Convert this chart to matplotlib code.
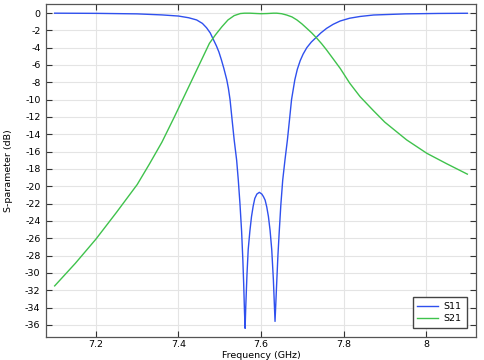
import matplotlib
matplotlib.use("Agg")
import matplotlib.pyplot as plt

f_s11 = [7.10, 7.20, 7.30, 7.36, 7.40, 7.425, 7.444, 7.458, 7.468, 7.477, 7.484, 7.492,
         7.498, 7.504, 7.510, 7.517, 7.521, 7.525, 7.530, 7.535, 7.541, 7.545, 7.549,
         7.553, 7.556, 7.558, 7.560, 7.5615, 7.563, 7.566, 7.569, 7.573, 7.577, 7.581,
         7.585, 7.590, 7.596, 7.602, 7.606, 7.610, 7.614, 7.618, 7.622, 7.626, 7.630,
         7.632, 7.634, 7.636, 7.638, 7.641, 7.644, 7.648, 7.6526, 7.658, 7.664, 7.669,
         7.674, 7.682, 7.688, 7.695, 7.702, 7.711, 7.722, 7.733, 7.745, 7.759, 7.775,
         7.792, 7.815, 7.84, 7.873, 7.95, 8.03, 8.10]
s11 = [-0.02, -0.04, -0.10, -0.22, -0.35, -0.55, -0.8, -1.2, -1.7, -2.3, -3.0, -3.8,
       -4.5, -5.4, -6.4, -7.7, -8.7, -10.0, -12.35, -14.65, -17.0, -19.3, -22.0,
       -25.2, -28.5, -31.2, -34.5, -36.4, -34.0, -30.2, -27.3, -25.2, -23.5, -22.3,
       -21.4, -20.9, -20.7, -20.9, -21.2, -21.6, -22.4, -23.5, -25.1, -27.3, -30.8,
       -33.2, -35.6, -33.4, -31.2, -28.0, -25.4, -22.2, -19.3, -17.0, -14.65, -12.35,
       -10.0, -7.7, -6.5, -5.5, -4.75, -4.0, -3.35, -2.85, -2.3, -1.77, -1.3,
       -0.92, -0.6, -0.4, -0.23, -0.1, -0.05, -0.03]

f_s21 = [7.10, 7.15, 7.20, 7.25, 7.30, 7.33, 7.36, 7.39, 7.42, 7.44, 7.46, 7.475,
         7.49, 7.505, 7.52, 7.535, 7.55, 7.56, 7.573, 7.59, 7.60, 7.615, 7.63,
         7.638, 7.650, 7.662, 7.675, 7.687, 7.699, 7.711, 7.723, 7.735, 7.747, 7.759,
         7.775, 7.792, 7.815, 7.84, 7.873, 7.90, 7.953, 8.002, 8.05, 8.10]
s21 = [-31.5, -28.9, -26.1, -23.0, -19.8, -17.4, -14.9, -12.0, -9.0, -7.0, -5.0, -3.5,
       -2.5, -1.6, -0.8, -0.3, -0.06, -0.02, -0.02, -0.06, -0.08, -0.06, -0.02,
       -0.02, -0.08, -0.23, -0.45, -0.8, -1.25, -1.77, -2.3, -2.9, -3.55, -4.27,
       -5.3, -6.4, -8.1, -9.65, -11.3, -12.6, -14.65, -16.2, -17.4, -18.6]

series_labels = ["S11", "S21"]
colors = ["#2f50ee", "#3fc24c"]
x_ticks = [7.2, 7.4, 7.6, 7.8, 8.0]
x_ticklabels = ["7.2", "7.4", "7.6", "7.8", "8"]
y_ticks = list(range(0, -38, -2))

plt.rcParams['font.family'] = ['DejaVu Sans']
fig = plt.figure(figsize=(4.84, 3.6), dpi=100)
ax = fig.add_axes([46/484, 23/360, 430/484, 333/360])

ax.plot(f_s11, s11, color=colors[0], lw=1.0, label=series_labels[0])
ax.plot(f_s21, s21, color=colors[1], lw=1.0, label=series_labels[1])

ax.set_xlim(7.079, 8.121)
ax.set_ylim(-37.4, 1.04)
ax.set_xticks(x_ticks)
ax.set_xticklabels(x_ticklabels)
ax.set_yticks(y_ticks)
ax.set_yticklabels([str(v) for v in y_ticks])
ax.grid(True, color="#e4e4e4", lw=0.8)
ax.set_axisbelow(True)
ax.tick_params(direction="in", top=True, right=True, labelsize=6.8, length=4,
               width=0.8, color="#333333")
ax.tick_params(axis="x", pad=2)
ax.tick_params(axis="y", pad=4)
for s in ax.spines.values():
    s.set_color("#555555")
    s.set_linewidth(0.9)
ax.set_xlabel("Frequency (GHz)", fontsize=6.8)
ax.set_ylabel("S-parameter (dB)", fontsize=6.8)
ax.xaxis.set_label_coords(0.5, -(355.5 - 337) / 333)
ax.xaxis.label.set_va("center")
ax.yaxis.set_label_coords(-(46 - 9) / 430, 0.5)
ax.yaxis.label.set_va("center")

leg = ax.legend(loc="lower right", fontsize=6.8, fancybox=False, framealpha=1,
                edgecolor="#444444", borderaxespad=1.0, handlelength=2.2,
                handletextpad=0.6, borderpad=0.5, labelspacing=0.3)
leg.get_frame().set_linewidth(1.0)

fig.savefig("out.png", dpi=100)
